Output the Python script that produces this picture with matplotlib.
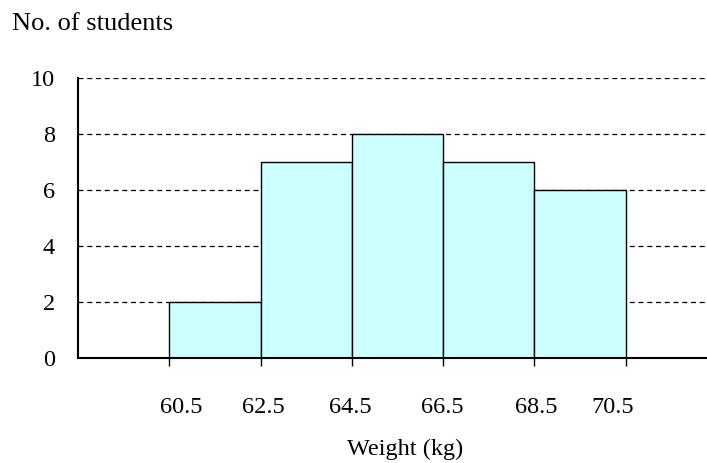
import matplotlib
matplotlib.use("Agg")
import matplotlib.pyplot as plt
import matplotlib.transforms as mtransforms

# ── Data ─────────────────────────────────────────────────────────────
bin_edges = [60.5, 62.5, 64.5, 66.5, 68.5, 70.5]
counts = [2, 7, 8, 7, 6]
y_ticks = [0, 2, 4, 6, 8, 10]
x_tick_labels = ["60.5", "62.5", "64.5", "66.5", "68.5", "70.5"]

# the original labels sit slightly off their ticks (pixels, + = right)
label_nudge_px = [12, 3, -1, -1, 2, -13]

BAR_COLOR = "#CCFFFF"
FONT = ["Liberation Serif", "DejaVu Serif"]

plt.rcParams["font.family"] = FONT

fig = plt.figure(figsize=(7.07, 4.63), dpi=100)
ax = fig.add_axes([78 / 707, 105 / 463, 1 - 78 / 707 + 0.001, 280 / 463])

lefts = bin_edges[:-1]
widths = [b - a for a, b in zip(bin_edges[:-1], bin_edges[1:])]
ax.bar(lefts, counts, width=widths, align="edge", color=BAR_COLOR,
       edgecolor="black", linewidth=1.0, zorder=2)

ax.set_xlim(58.5, 72.3)
ax.set_ylim(0, 10)

# dashed gridlines (incl. the top one at 10)
for y in y_ticks[1:]:
    ax.axhline(y, color="black", linewidth=0.9, linestyle=(0, (4, 3)), zorder=1)

ax.spines["top"].set_visible(False)
ax.spines["right"].set_visible(False)
ax.spines["left"].set_linewidth(1.5)
ax.spines["bottom"].set_linewidth(1.5)
ax.spines["bottom"].set_zorder(3)

ax.set_yticks(y_ticks)
ax.set_yticklabels([str(v) for v in y_ticks], fontsize=17.5)
ax.tick_params(axis="y", length=0, pad=16.5)

ax.set_xticks(bin_edges)
ax.set_xticklabels(x_tick_labels, fontsize=17.5)
ax.tick_params(axis="x", length=6, width=1.0, pad=22, direction="out")

for lbl, dx in zip(ax.get_xticklabels(), label_nudge_px):
    offset = mtransforms.ScaledTranslation(dx / 100, 0, fig.dpi_scale_trans)
    lbl.set_transform(lbl.get_transform() + offset)

fig.text(12 / 707, 1 - 24 / 463, "No. of students", fontsize=19,
         ha="left", va="center")
fig.text(405 / 707, 1 - 449 / 463, "Weight (kg)", fontsize=17.5,
         ha="center", va="center")

fig.savefig("out.png", dpi=100)
